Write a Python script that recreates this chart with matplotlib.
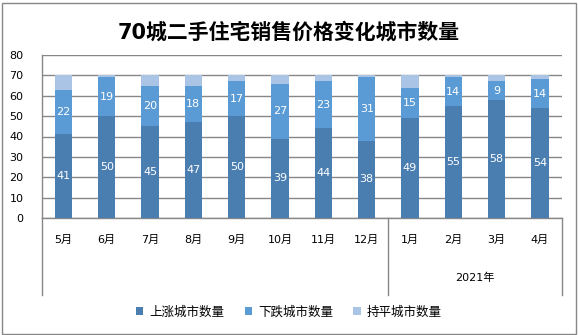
import matplotlib
matplotlib.use("Agg")
import matplotlib.pyplot as plt
from matplotlib.patches import Patch, Rectangle
import numpy as np

plt.rcParams['font.family'] = ['DejaVu Sans', 'Noto Sans CJK SC']

title = "70城二手住宅销售价格变化城市数量"
months = ["5月", "6月", "7月", "8月", "9月", "10月", "11月", "12月", "1月", "2月", "3月", "4月"]
group_label = "2021年"
up = [41, 50, 45, 47, 50, 39, 44, 38, 49, 55, 58, 54]
down = [22, 19, 20, 18, 17, 27, 23, 31, 15, 14, 9, 14]
flat = [7, 1, 5, 5, 3, 4, 3, 1, 6, 1, 3, 2]
series_names = ["上涨城市数量", "下跌城市数量", "持平城市数量"]
colors = ["#4A7EB1", "#5B9BD5", "#A9C4E5"]
yticks = [0, 10, 20, 30, 40, 50, 60, 70, 80]

W, H = 578, 335
fig = plt.figure(figsize=(W / 100, H / 100), dpi=100)
fig.patch.set_facecolor("white")

L, R, T, B = 41.7, 561.7, 55, 218
ax = fig.add_axes([L / W, 1 - B / H, (R - L) / W, (B - T) / H])

x = np.arange(len(months))
bw = 0.4
up_a = np.array(up)
down_a = np.array(down)
flat_a = np.array(flat)
ax.bar(x, up_a, bw, color=colors[0], zorder=3)
ax.bar(x, down_a, bw, bottom=up_a, color=colors[1], zorder=3)
ax.bar(x, flat_a, bw, bottom=up_a + down_a, color=colors[2], zorder=3)

for i in range(len(months)):
    ax.text(x[i], up_a[i] / 2, str(up[i]), ha="center", va="center",
            color="white", fontsize=8, zorder=4)
    ax.text(x[i], up_a[i] + down_a[i] / 2, str(down[i]), ha="center", va="center",
            color="white", fontsize=8, zorder=4)

ax.set_xlim(-0.5, len(months) - 0.5)
ax.set_ylim(0, 80)
ax.set_yticks(yticks)
ax.set_yticklabels([str(v) for v in yticks], fontsize=8)
ax.tick_params(axis="y", length=0, pad=13)
ax.set_xticks([])
ax.grid(axis="y", color="#878787", linewidth=1, zorder=0)
for s in ["top", "right"]:
    ax.spines[s].set_visible(False)
ax.spines["left"].set_color("#878787")
ax.spines["bottom"].set_color("#878787")
ax.spines["left"].set_linewidth(1)
ax.spines["bottom"].set_linewidth(1)

# multi-level category axis
tr = ax.get_xaxis_transform()
ylow = -(295 - B) / (B - T)
for xv in [-0.5, 7.5, len(months) - 0.5]:
    ax.plot([xv, xv], [0, ylow], color="#878787", lw=1, transform=tr, clip_on=False)
ym = -(240 - B) / (B - T)
for i, m in enumerate(months):
    ax.text(x[i], ym, m, transform=tr, ha="center", va="center", fontsize=8)
yg = -(278 - B) / (B - T)
ax.text((8 + 11) / 2, yg, group_label, transform=tr, ha="center", va="center", fontsize=8)

fig.text(0.5, 1 - 32 / H, title, ha="center", va="center", fontsize=15,
         fontweight="bold", family=['DejaVu Sans', 'Noto Sans CJK SC'])

handles = [Patch(facecolor=c, edgecolor="none") for c in colors]
fig.legend(handles, series_names, loc="center", bbox_to_anchor=(0.5, 1 - 312 / H),
           ncol=3, frameon=False, fontsize=9, handlelength=0.6, handleheight=0.6,
           handletextpad=0.5, columnspacing=1.6)

fig.patches.append(Rectangle((1.5 / W, 1.5 / H), (W - 4) / W, (H - 4) / H,
                             transform=fig.transFigure, fill=False,
                             edgecolor="#878787", lw=1))

fig.savefig("out.png", dpi=100)
